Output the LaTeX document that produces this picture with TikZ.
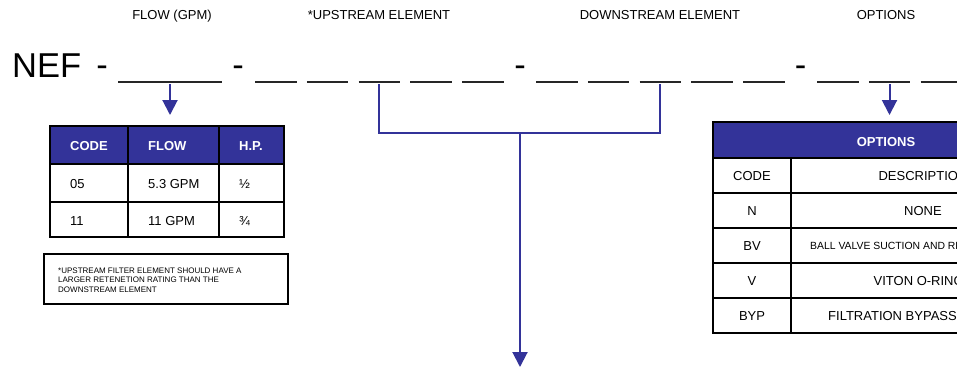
\documentclass[tikz,border=0pt]{standalone}
\usepackage{fontspec}
\setmainfont{Liberation Sans}
\usetikzlibrary{arrows.meta}
\definecolor{navy}{RGB}{51,51,153}

\begin{document}
\begin{tikzpicture}[x=1pt,y=-1pt,>={Triangle[width=15pt,length=15pt]}]
    \tikzstyle{blank}=[draw=black!85,line width=2pt]
    \tikzstyle{link}=[draw=navy,line width=2pt]
    \tikzstyle{rule}=[draw=black,line width=2pt]
    \tikzstyle{cell}=[inner sep=0pt,anchor=base west,font=\fontsize{13}{15}\selectfont]
    \tikzstyle{head}=[cell,text=white,font=\fontsize{13}{15}\selectfont\bfseries]
    \tikzstyle{title}=[inner sep=0pt,anchor=base,font=\fontsize{13}{15}\selectfont]
    \tikzstyle{hyph}=[inner sep=0pt,anchor=base,font=\fontsize{34.5}{40}\selectfont]
    \useasboundingbox (0,0) rectangle (957,368);
    \clip (0,0) rectangle (957,368);

    % headings over the code
    \node[title] (l-flow) at (172,19) {FLOW (GPM)};
    \node[title] (l-up) at (379,19) {*UPSTREAM ELEMENT};
    \node[title] (l-down) at (660,19) {DOWNSTREAM ELEMENT};
    \node[title] (l-opt) at (886,19) {OPTIONS};

    % the code line
    \node[hyph,anchor=base west] (nef) at (12,77) {NEF};
    \foreach \num/\x in {1/102, 2/238, 3/520, 4/800.5}
        \node[hyph] (S-\num) at (\x,76) {-};

    \draw[blank] (118,82) -- (222,82);
    \coordinate (flow) at (170,82);
    \foreach \num/\x in {1/255, 2/306.75, 3/358.5, 4/410.25, 5/462} {
        \draw[blank] (\x,82) -- ++(41.5,0);
        \coordinate (U-\num) at (\x+20.75,82);
    }
    \foreach \num/\x in {1/536, 2/587.75, 3/639.5, 4/691.25, 5/743} {
        \draw[blank] (\x,82) -- ++(41.5,0);
        \coordinate (D-\num) at (\x+20.75,82);
    }
    \foreach \num/\x in {1/817, 2/868.75, 3/920.5} {
        \draw[blank] (\x,82) -- ++(41.5,0);
        \coordinate (O-\num) at (\x+20.75,82);
    }

    % connectors
    \coordinate (flow-end) at (170,115);
    \coordinate (opt-end) at (889.5,115);
    \coordinate (joint) at (520,133);
    \coordinate (out) at (520,367);
    \draw[link,->] ([yshift=-2pt]flow) -- (flow-end);
    \draw[link,->] ([yshift=-2pt]O-2) -- (opt-end);
    \draw[link] ([yshift=-2pt]U-3) |- (joint) -| ([yshift=-2pt]D-3);
    \draw[link,->] (joint) -- (out);

    % flow table
    \fill[navy] (50,126) rectangle (284,164);
    \draw[rule] (50,126) rectangle (284,237);
    \draw[rule] (50,164) -- (284,164) (50,202) -- (284,202)
                (128,126) -- (128,237) (219,126) -- (219,237);
    \node[head] (h-code) at (70,150) {CODE};
    \node[head] (h-flow) at (148,150) {FLOW};
    \node[head] (h-hp) at (239,150) {H.P.};
    \foreach \row/\y/\code/\gpm/\hp in {1/188/05/5.3 GPM/½, 2/225/11/11 GPM/¾} {
        \node[cell] (c-\row) at (70,\y) {\code};
        \node[cell] (f-\row) at (148,\y) {\gpm};
        \node[cell] (p-\row) at (239,\y) {\hp};
    }

    % note
    \draw[rule] (44,254) rectangle (288,304);
    \node[cell,align=left,font=\fontsize{8}{9.5}\selectfont] (note) at (58,292)
        {*UPSTREAM FILTER ELEMENT SHOULD HAVE A\\LARGER RETENETION RATING THAN THE\\DOWNSTREAM ELEMENT};

    % options table
    \fill[navy] (713,122) rectangle (1055,158);
    \draw[rule] (713,122) rectangle (1055,333);
    \foreach \y in {158,193,228,263,298}
        \draw[rule] (713,\y) -- (1055,\y);
    \draw[rule] (791,158) -- (791,333);
    \node[head,anchor=base] (o-head) at (886,146) {OPTIONS};
    \foreach \row/\y/\code in {1/180/CODE, 2/215/N, 3/250/BV, 4/285/V, 5/320/BYP}
        \node[cell,anchor=base] (k-\row) at (752,\y) {\code};
    \node[cell,anchor=base] (d-1) at (923,180) {DESCRIPTION};
    \node[cell,anchor=base] (d-2) at (923,215) {NONE};
    \node[cell,font=\fontsize{10.4}{12}\selectfont] (d-3) at (810,249.5) {BALL VALVE SUCTION AND RETURN};
    \node[cell,anchor=base] (d-4) at (923,285) {VITON O-RINGS};
    \node[cell] (d-5) at (828,320) {FILTRATION BYPASS VALVE};
\end{tikzpicture}
\end{document}
